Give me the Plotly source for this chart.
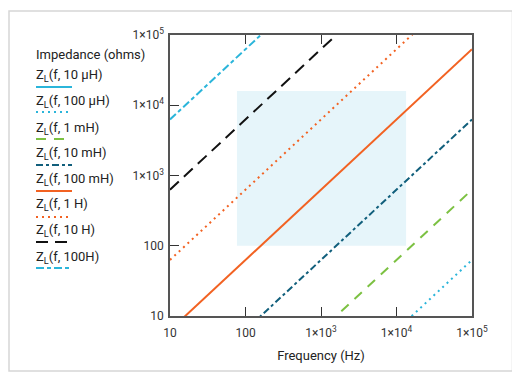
import plotly.graph_objects as go

# Frequency points (Hz)
freq = [10, 100, 1000, 10000, 100000]

# Impedance (ohms) read per inductance
z_10uH = [0.000628, 0.00628, 0.0628, 0.628, 6.28]
z_100uH = [0.00628, 0.0628, 0.628, 6.28, 62.8]
z_1mH = [0.0628, 0.628, 6.28, 62.8, 628]
z_10mH = [0.628, 6.28, 62.8, 628, 6280]
z_100mH = [6.28, 62.8, 628, 6280, 62800]
z_1H = [62.8, 628, 6280, 62800, 628000]
z_10H = [628, 6280, 62800, 628000, 6280000]
z_100H = [6280, 62800, 628000, 6280000, 62800000]

series_names = ["Z<sub>L</sub>(f, 10 µH)", "Z<sub>L</sub>(f, 100 µH)", "Z<sub>L</sub>(f, 1 mH)",
                "Z<sub>L</sub>(f, 10 mH)", "Z<sub>L</sub>(f, 100 mH)", "Z<sub>L</sub>(f, 1 H)",
                "Z<sub>L</sub>(f, 10 H)", "Z<sub>L</sub>(f, 100H)"]
series_values = [z_10uH, z_100uH, z_1mH, z_10mH, z_100mH, z_1H, z_10H, z_100H]
colors = ["#2bb5da", "#2bb5da", "#7cc142", "#115f7c", "#f26222", "#f26222", "#111111", "#2bb5da"]
dashes = ["solid", "2px,4px", "10px,8px", "7px,3px,3px,3px", "solid", "2px,4px", "12px,7px", "8px,3px,4px,3px"]

# Shaded region (estimate)
band_x = [77, 13400]
band_y = [100, 16000]

x_ticks = [10, 100, 1000, 10000, 100000]
x_ticktext = ["10", "100", "1×10<sup>3</sup>", "1×10<sup>4</sup>", "1×10<sup>5</sup>"]
y_ticks = [10, 100, 1000, 10000, 100000]
y_ticktext = ["10", "100", "1×10<sup>3</sup>", "1×10<sup>4</sup>", "1×10<sup>5</sup>"]

OFF = 8  # page body margin
W, H = 520 - OFF, 378 - OFF
L, R, T, B = 170, 472, 35, 316  # reference pixel coords of plot area

def px(x):
    return (x - L) / (R - L)

def py(y):
    return (B - y) / (B - T)

fig = go.Figure()
for name, vals, c, d in zip(series_names, series_values, colors, dashes):
    fig.add_trace(go.Scatter(x=freq, y=vals, mode="lines", name=name,
                             line=dict(color=c, width=2, dash=d), showlegend=False,
                             hoverinfo="skip"))

shapes = []
shapes.append(dict(type="rect", xref="paper", yref="paper",
                   x0=px(9), x1=px(512.5), y0=py(371), y1=py(11),
                   line=dict(color="#d6d6d6", width=1.5), layer="below"))
shapes.append(dict(type="rect", xref="x", yref="y", x0=band_x[0], x1=band_x[1],
                   y0=band_y[0], y1=band_y[1], fillcolor="#e6f5fa",
                   line=dict(width=0), layer="below"))

annotations = []
annotations.append(dict(xref="paper", yref="paper", x=px(34), y=py(54), text="Impedance (ohms)",
                        showarrow=False, xanchor="left", yanchor="middle",
                        font=dict(size=13, color="#222")))
text_y = [75, 101, 128, 153, 179, 204, 230, 257]
line_y = [87, 112, 139, 165, 191, 217, 242, 268]
for name, c, d, ty, ly in zip(series_names, colors, dashes, text_y, line_y):
    annotations.append(dict(xref="paper", yref="paper", x=px(34), y=py(ty), text=name,
                            showarrow=False, xanchor="left", yanchor="middle",
                            font=dict(size=13, color="#222")))
    shapes.append(dict(type="line", xref="paper", yref="paper", x0=px(36), x1=px(72),
                       y0=py(ly), y1=py(ly), line=dict(color=c, width=2, dash=d)))

fig.update_layout(
    width=W, height=H,
    margin=dict(l=L - OFF, r=W - (R - OFF), t=T - OFF, b=H - (B - OFF)),
    paper_bgcolor="white", plot_bgcolor="white",
    font=dict(family="Roboto, sans-serif", size=12, color="#333"),
    shapes=shapes, annotations=annotations,
    xaxis=dict(type="log", range=[1, 5], tickvals=x_ticks, ticktext=x_ticktext,
               ticks="inside", ticklen=9, tickcolor="#333", showgrid=False, zeroline=False,
               showline=True, linecolor="#555", linewidth=1.5, mirror="ticks",
               ticklabelstandoff=5,
               title=dict(text="Frequency (Hz)", font=dict(size=13, color="#222"), standoff=12)),
    yaxis=dict(type="log", range=[1, 5], tickvals=y_ticks, ticktext=y_ticktext,
               ticks="inside", ticklen=9, tickcolor="#333", showgrid=False, zeroline=False,
               showline=True, linecolor="#555", linewidth=1.5, mirror=True, ticklabelstandoff=2),
)

fig.write_html("out.html")
